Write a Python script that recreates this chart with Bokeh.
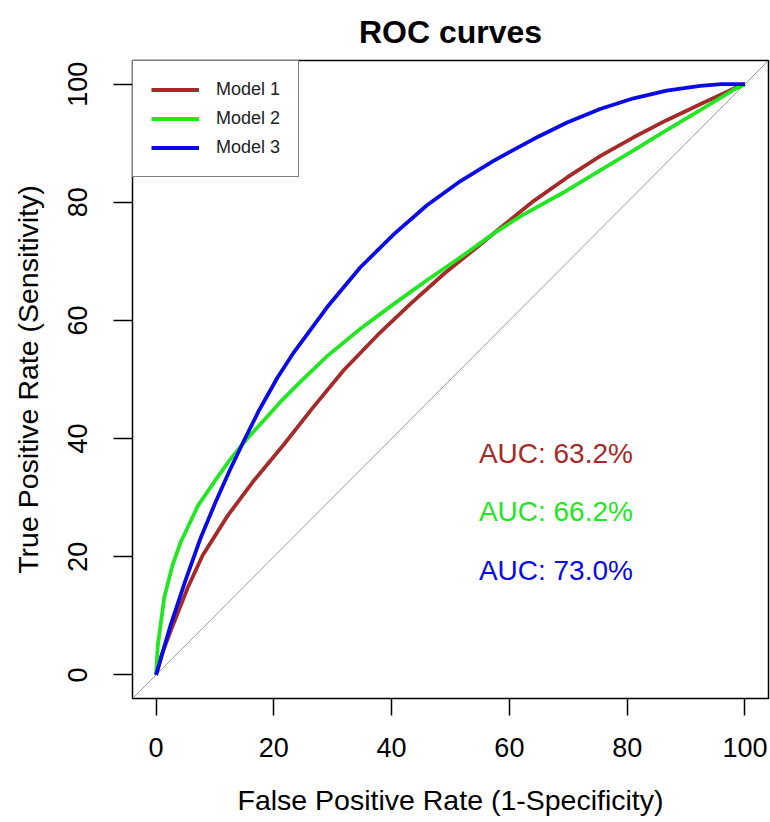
from bokeh.plotting import figure
from bokeh.models import Range1d, FixedTicker, Slope, Legend, LegendItem, Label
from bokeh.embed import file_html
from bokeh.resources import INLINE

# ---- data ----
title_text = "ROC curves"
model_names = ["Model 1", "Model 2", "Model 3"]
auc_texts = ["AUC: 63.2%", "AUC: 66.2%", "AUC: 73.0%"]

fpr1 = [0, 1, 2.5, 5.4, 7.9, 12.2, 16.7, 21.7, 26.6, 31.9, 37.6, 43.2, 48.9, 54.5,
        58.5, 64.1, 69.8, 75.4, 81.1, 86.7, 92.4, 98, 100]
tpr1 = [0, 3.5, 7.5, 14.8, 20.2, 27.0, 33.0, 39.0, 45.2, 51.6, 57.5, 62.8, 67.9, 72.4,
        75.7, 80.2, 84.2, 87.8, 91.0, 93.9, 96.6, 99.2, 100]

fpr2 = [0, 0.3, 1.4, 2.8, 4.2, 7.1, 9.9, 12.7, 15.5, 18.4, 21.5, 24.5, 29.1, 34.7, 40.4,
        46, 51.7, 57.3, 62, 69.8, 75.4, 81.1, 86.7, 92.4, 98, 100]
tpr2 = [0, 5, 13.1, 18.6, 22.5, 28.6, 32.7, 36.6, 40, 43.2, 46.6, 49.6, 54.0, 58.6, 62.8,
        66.8, 70.7, 74.7, 77.7, 82.0, 85.4, 88.8, 92.2, 95.6, 99.0, 100]

fpr3 = [0, 2.5, 5, 7.5, 10, 12.5, 15, 17.5, 20.6, 23.4, 29.1, 34.7, 40.4, 46, 51.7,
        57.3, 60, 64.1, 69.8, 75.4, 81.1, 86.7, 92.4, 96, 100]
tpr3 = [0, 8.5, 16, 23, 29, 34.6, 39.8, 44.8, 50.3, 54.6, 62.3, 69.0, 74.6, 79.5, 83.6,
        87.0, 88.5, 90.7, 93.5, 95.8, 97.6, 98.9, 99.7, 100, 100]

x_ticks = [0, 20, 40, 60, 80, 100]
y_ticks = [0, 20, 40, 60, 80, 100]

# ---- styling ----
FONT = "Liberation Sans"
colors = ["#A52A2A", "#22E622", "#0A0AE6"]

p = figure(width=770, height=822,
           x_range=Range1d(-4, 104), y_range=Range1d(-4, 104),
           output_backend="svg", toolbar_location=None,
           min_border_left=132, min_border_right=2,
           min_border_top=60, min_border_bottom=124)

p.background_fill_color = "white"
p.border_fill_color = "white"
p.outline_line_color = "black"
p.outline_line_width = 1.5
p.xgrid.visible = False
p.ygrid.visible = False

# title
p.title.text = title_text
p.title.align = "center"
p.title.text_font = FONT
p.title.text_font_size = "32px"
p.title.text_font_style = "bold"
p.title.text_color = "black"
p.title.standoff = 21

# axes
for ax in (p.xaxis[0], p.yaxis[0]):
    ax.axis_line_color = None
    ax.major_tick_in = 0
    ax.minor_tick_line_color = None
    ax.major_tick_line_color = "black"
    ax.major_tick_line_width = 1.5
    ax.major_label_text_font = FONT
    ax.major_label_text_font_size = "27px"
    ax.major_label_text_color = "black"
    ax.axis_label_text_font = FONT
    ax.axis_label_text_font_size = "28.5px"
    ax.axis_label_text_font_style = "normal"
    ax.axis_label_text_color = "black"

p.xaxis.ticker = FixedTicker(ticks=x_ticks)
p.yaxis.ticker = FixedTicker(ticks=y_ticks)
p.xaxis.major_tick_out = 17
p.yaxis.major_tick_out = 19
p.xaxis.major_label_standoff = 22
p.yaxis.major_label_standoff = 26
p.yaxis.major_label_orientation = "vertical"
p.xaxis.axis_label = "False Positive Rate (1-Specificity)"
p.yaxis.axis_label = "True Positive Rate (Sensitivity)"
p.xaxis.axis_label_standoff = 24
p.yaxis.axis_label_standoff = 22

# diagonal reference line
diag = Slope(gradient=1, y_intercept=0, line_color="#9a9a9a", line_width=1)
diag.level = "underlay"
p.add_layout(diag)

# curves
renderers = []
for fx, ty, c in ((fpr1, tpr1, colors[0]), (fpr2, tpr2, colors[1]), (fpr3, tpr3, colors[2])):
    r = p.line(fx, ty, line_color=c, line_width=3.8, line_join="round")
    renderers.append(r)

legend = Legend(items=[LegendItem(label=n, renderers=[r]) for n, r in zip(model_names, renderers)],
                location="top_left", margin=0, padding=18, spacing=8,
                glyph_width=48, glyph_height=21, label_height=21, label_standoff=17,
                label_text_font=FONT, label_text_font_size="18px", label_text_color="#222222",
                border_line_color="black", border_line_width=1.5,
                background_fill_color="white", background_fill_alpha=1)
p.add_layout(legend)

# AUC annotations
auc_x = 67.9
auc_y = [37.5, 27.6, 17.6]
for t, yv, c in zip(auc_texts, auc_y, colors):
    p.add_layout(Label(x=auc_x, y=yv, text=t, text_align="center", text_baseline="middle",
                       text_font=FONT, text_font_size="28px", text_color=c))

with open("out.html", "w") as f:
    f.write(file_html(p, INLINE))
